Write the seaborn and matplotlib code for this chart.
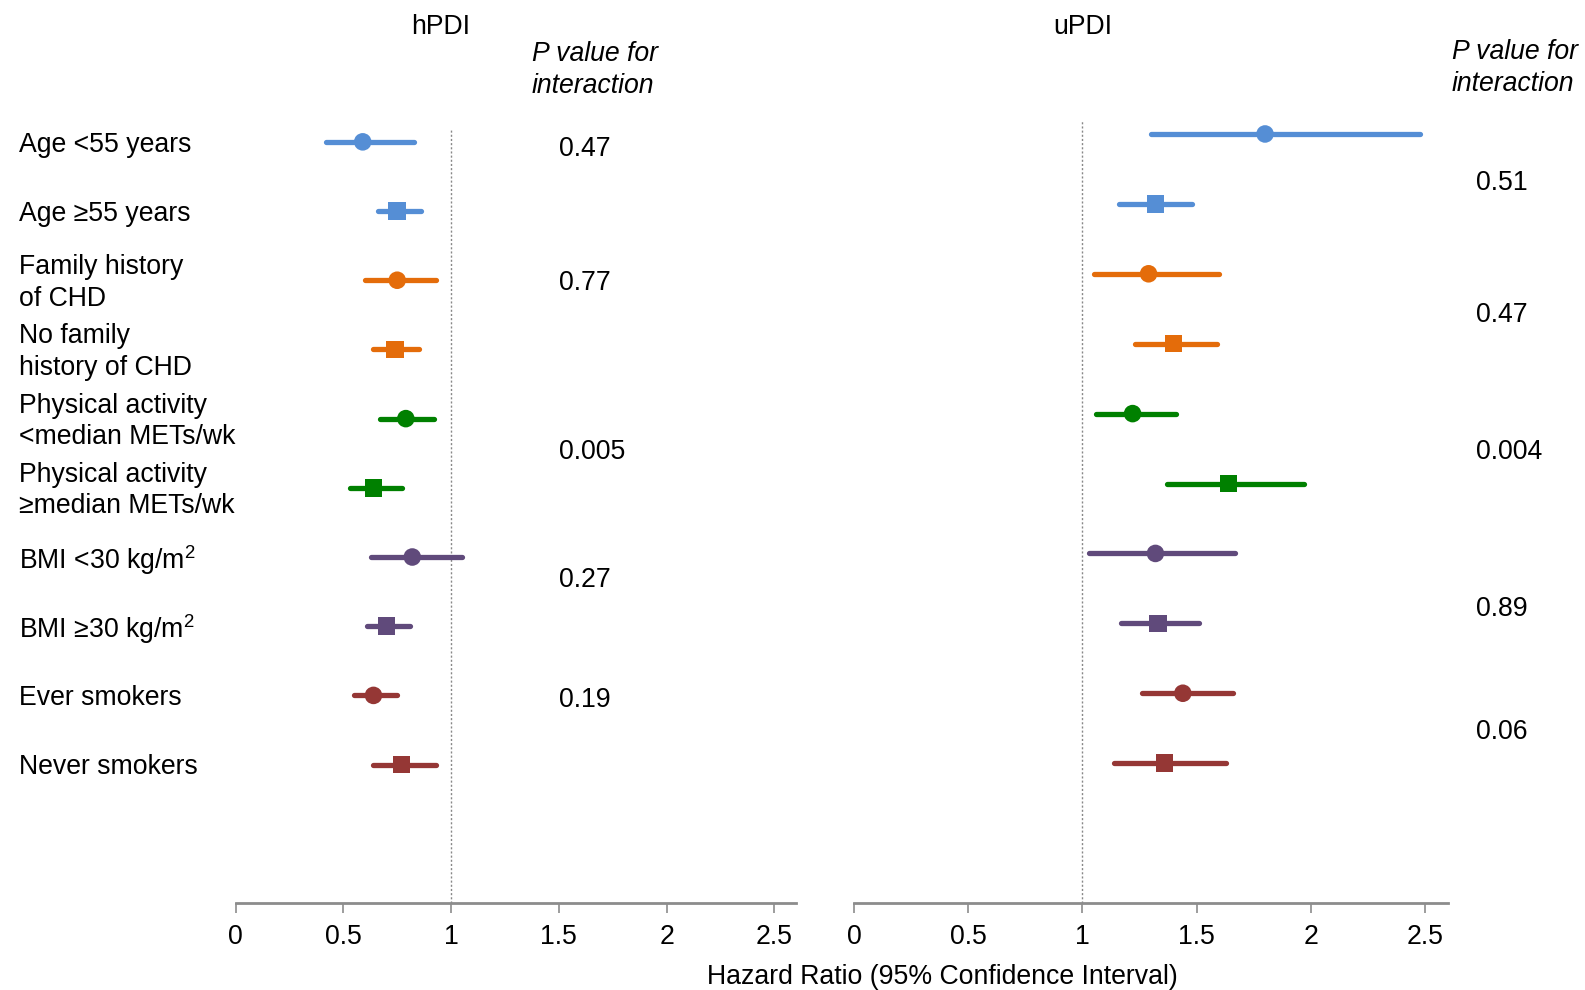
import numpy as np
import pandas as pd
import matplotlib
matplotlib.use("Agg")
import matplotlib.pyplot as plt
import matplotlib.transforms as mtransforms
import seaborn as sns

# ---------------- data ----------------
labels = ["Age <55 years", "Age \u226555 years", "Family history\nof CHD",
          "No family\nhistory of CHD", "Physical activity\n<median METs/wk",
          "Physical activity\n\u2265median METs/wk", "BMI <30 kg/m$^2$",
          "BMI \u226530 kg/m$^2$", "Ever smokers", "Never smokers"]
groups = ["Age", "Age", "Family", "Family", "PA", "PA", "BMI", "BMI", "Smoke", "Smoke"]
levels = ["a", "b", "a", "b", "a", "b", "a", "b", "a", "b"]

h_hr = [0.59, 0.75, 0.75, 0.74, 0.79, 0.64, 0.82, 0.70, 0.64, 0.77]
h_lo = [0.42, 0.66, 0.60, 0.64, 0.67, 0.53, 0.63, 0.61, 0.55, 0.64]
h_hi = [0.83, 0.86, 0.93, 0.85, 0.92, 0.77, 1.05, 0.81, 0.75, 0.93]

u_hr = [1.80, 1.32, 1.29, 1.40, 1.22, 1.64, 1.32, 1.33, 1.44, 1.36]
u_lo = [1.30, 1.16, 1.05, 1.23, 1.06, 1.37, 1.03, 1.17, 1.26, 1.14]
u_hi = [2.48, 1.48, 1.60, 1.59, 1.41, 1.97, 1.67, 1.51, 1.66, 1.63]

h_pvals = ["0.47", "0.77", "0.005", "0.27", "0.19"]
h_pval_rows = [1.11, 3.04, 5.48, 7.33, 9.07]
u_pvals = ["0.51", "0.47", "0.004", "0.89", "0.06"]
u_pval_rows = [1.70, 3.59, 5.55, 7.80, 9.56]

xticks = [0, 0.5, 1, 1.5, 2, 2.5]
xticklabels = ["0", "0.5", "1", "1.5", "2", "2.5"]

palette = {"Age": "#558ED5", "Family": "#E46C0A", "PA": "#008000",
           "BMI": "#604A7B", "Smoke": "#953735"}

# ---------------- style ----------------
sns.set_theme(style="white")
plt.rcParams["font.family"] = ["Liberation Sans", "DejaVu Sans"]
plt.rcParams["mathtext.fontset"] = "custom"
plt.rcParams["mathtext.rm"] = "Liberation Sans"
plt.rcParams["mathtext.default"] = "regular"
plt.rcParams["text.color"] = "black"
FS = 19.2

rows = np.arange(1, 11)
df = pd.DataFrame({"row": rows, "group": groups, "level": levels,
                   "h_hr": h_hr, "h_lo": h_lo, "h_hi": h_hi,
                   "u_hr": u_hr, "u_lo": u_lo, "u_hi": u_hi})

fig = plt.figure(figsize=(15.85, 9.9), dpi=100)
axL = fig.add_axes([0.1486, 0.0879, 0.3536, 0.7828])
axR = fig.add_axes([0.5388, 0.0879, 0.3746, 0.7909])

def draw(ax, pre):
    for _, r in df.iterrows():
        ax.hlines(r["row"], r[pre + "_lo"], r[pre + "_hi"], color=palette[r["group"]],
                  lw=3.8, capstyle="round", zorder=2)
    sns.scatterplot(data=df, x=pre + "_hr", y="row", hue="group", style="level",
                    palette=palette, markers={"a": "o", "b": "s"}, s=160,
                    linewidth=0, legend=False, ax=ax, zorder=3)
    ax.axvline(1, color="#888888", lw=1, ls=(0, (1.5, 1.5)), zorder=1)
    ax.set_xlim(0, 2.6)
    ax.set_ylim(12, 0.8)
    ax.set_xticks(xticks)
    ax.set_xticklabels(xticklabels, fontsize=FS)
    ax.set_yticks([])
    ax.set_xlabel("")
    ax.set_ylabel("")
    for s in ["top", "right", "left"]:
        ax.spines[s].set_visible(False)
    ax.spines["bottom"].set_color("#8c8c8c")
    ax.spines["bottom"].set_linewidth(2)
    ax.tick_params(axis="x", bottom=True, length=7, width=1.2, color="#8c8c8c",
                   pad=8, labelcolor="black")

draw(axL, "h")
draw(axR, "u")

# row labels
trL = mtransforms.blended_transform_factory(fig.transFigure, axL.transData)
for i, lab in enumerate(labels):
    axL.text(19 / 1585, rows[i] + 0.04, lab, transform=trL, ha="left", va="center",
             fontsize=FS, linespacing=1.28)

# p values
for p, rr in zip(h_pvals, h_pval_rows):
    axL.text(1.5, rr, p, ha="left", va="center", fontsize=FS, clip_on=False)
trR = mtransforms.blended_transform_factory(fig.transFigure, axR.transData)
for p, rr in zip(u_pvals, u_pval_rows):
    axR.text(1476 / 1585, rr, p, transform=trR, ha="left", va="center",
             fontsize=FS, clip_on=False)

# headers
fig.text(532 / 1585, 1 - 70 / 990, "P value for\ninteraction", ha="left", va="center",
         fontsize=FS, style="italic", linespacing=1.28)
fig.text(1452 / 1585, 1 - 68 / 990, "P value for\ninteraction", ha="left", va="center",
         fontsize=FS, style="italic", linespacing=1.28)
fig.text(441 / 1585, 1 - 27 / 990, "hPDI", ha="center", va="center", fontsize=FS)
fig.text(1083 / 1585, 1 - 27 / 990, "uPDI", ha="center", va="center", fontsize=FS)
fig.text(942 / 1585, 1 - 977 / 990, "Hazard Ratio (95% Confidence Interval)",
         ha="center", va="center", fontsize=FS)

fig.savefig("out.png", dpi=100)
